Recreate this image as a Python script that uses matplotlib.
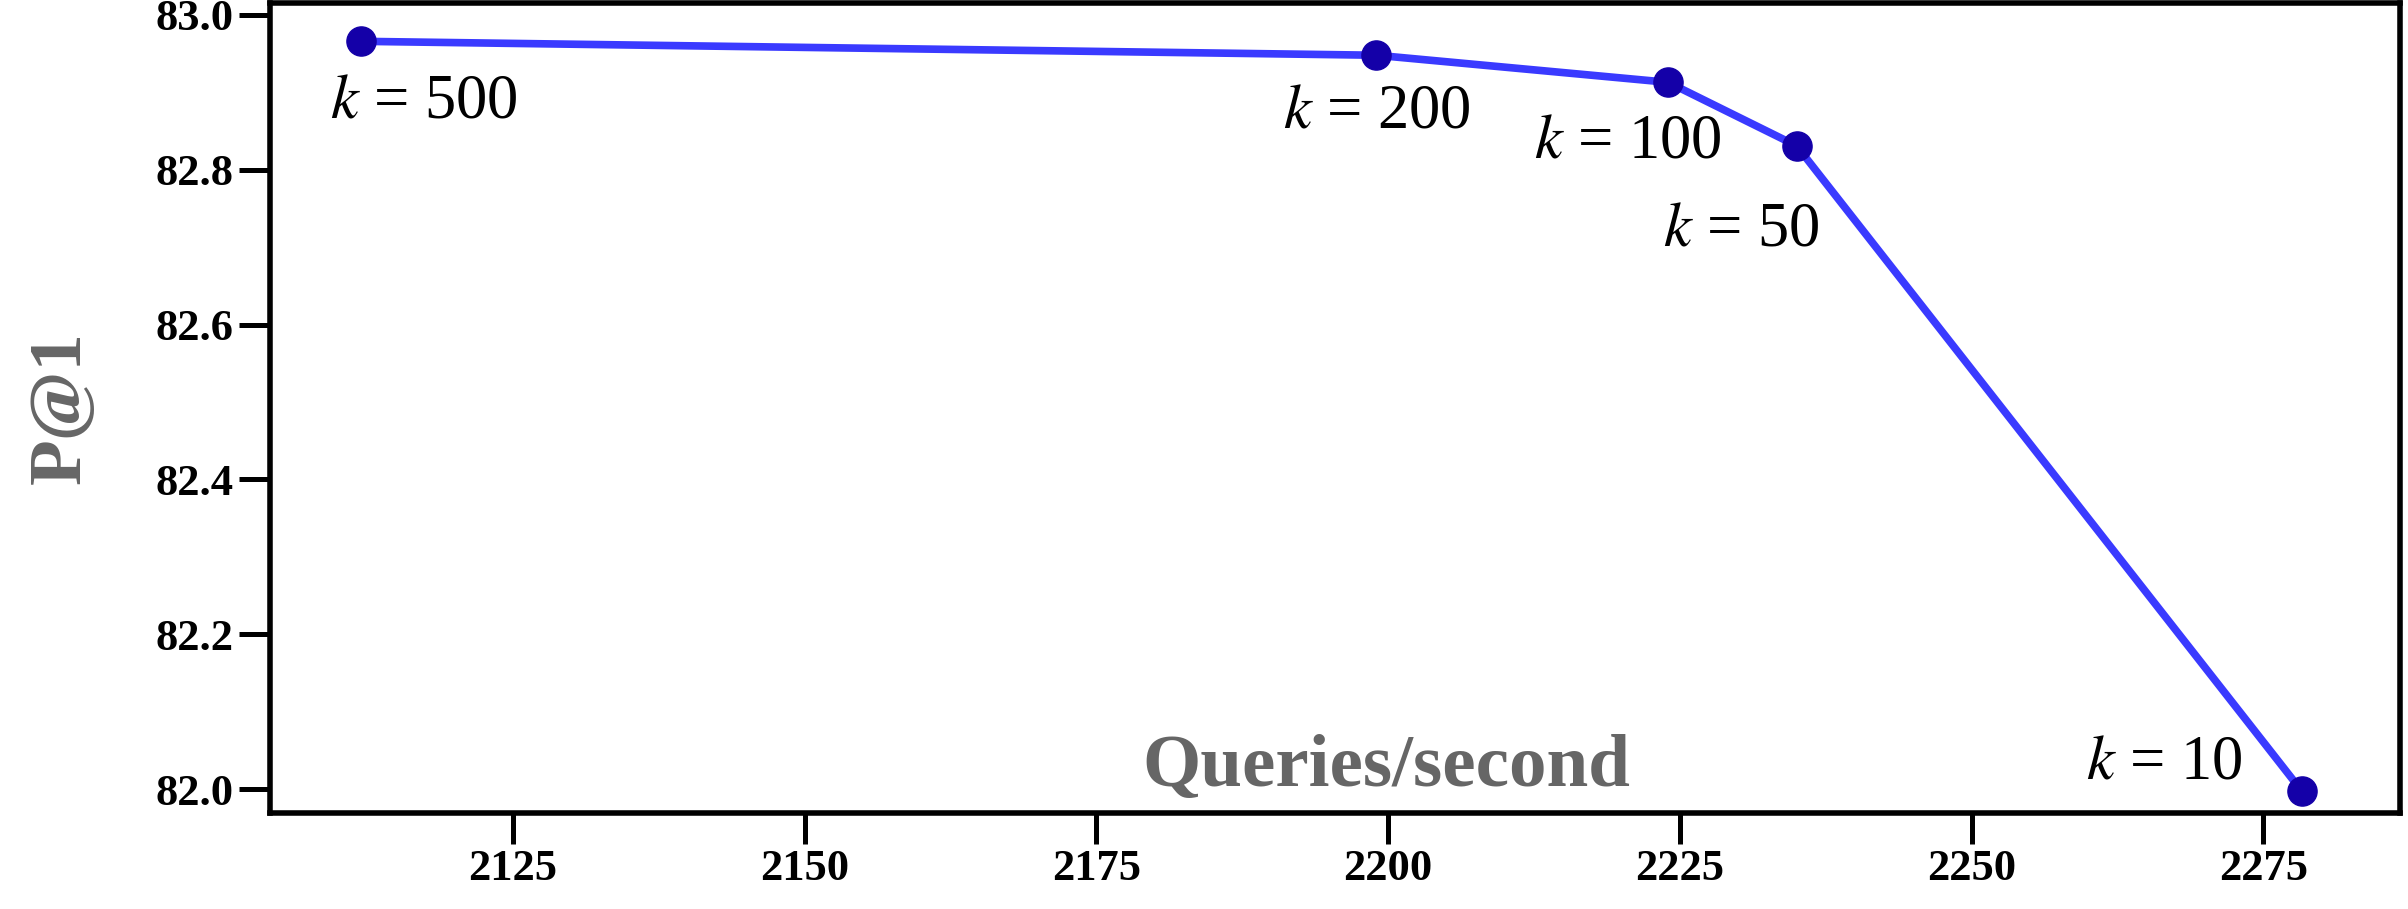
import matplotlib
matplotlib.use("Agg")
import matplotlib.pyplot as plt

# queries/second vs P@1 for different k
qps = [2112.0, 2199.0, 2224.0, 2235.0, 2278.3]
p_at_1 = [82.966, 82.948, 82.913, 82.831, 81.997]
k_vals = [500, 200, 100, 50, 10]
# label offsets in points
offsets = [(45, -44), (0, -41), (-29, -43), (-40, -61), (-99, 20)]

xticks = [2125, 2150, 2175, 2200, 2225, 2250, 2275]
yticks = [82.0, 82.2, 82.4, 82.6, 82.8, 83.0]

plt.rcParams['font.family'] = ['Liberation Serif', 'DejaVu Serif']
plt.rcParams['mathtext.fontset'] = 'stix'

fig = plt.figure(figsize=(24.08, 9.09), dpi=100)
ax = fig.add_axes([0.1121, 0.1056, 0.8846, 0.8911])

ax.plot(qps, p_at_1, color='#3a3aff', lw=5.5, marker='o', ms=21,
        mfc='#1400a8', mec='#1400a8', zorder=3)

for x, y, k, off in zip(qps, p_at_1, k_vals, offsets):
    ax.annotate(r'$k$ = %d' % k, (x, y), xytext=off, textcoords='offset points',
                ha='center', va='center', fontsize=45)

ax.set_xlim(2104.2, 2286.7)
ax.set_ylim(81.969, 83.0155)
ax.set_xticks(xticks)
ax.set_yticks(yticks)
ax.set_yticklabels(['%.1f' % v for v in yticks])

for lab in ax.get_xticklabels() + ax.get_yticklabels():
    lab.set_fontweight('bold')
    lab.set_fontsize(32)
ax.tick_params(axis='both', length=22, width=3.6, pad=4)

for sp in ax.spines.values():
    sp.set_linewidth(4)

ax.set_xlabel('Queries/second', fontsize=54, fontweight='bold', color='#666666')
ax.xaxis.label.set_va('baseline')
ax.xaxis.set_label_coords(0.524, 0.033)
ax.set_ylabel('P@1', fontsize=54, fontweight='bold', color='#666666')
ax.yaxis.set_label_coords(-0.082, 0.5)

fig.savefig('out.png', dpi=100)
